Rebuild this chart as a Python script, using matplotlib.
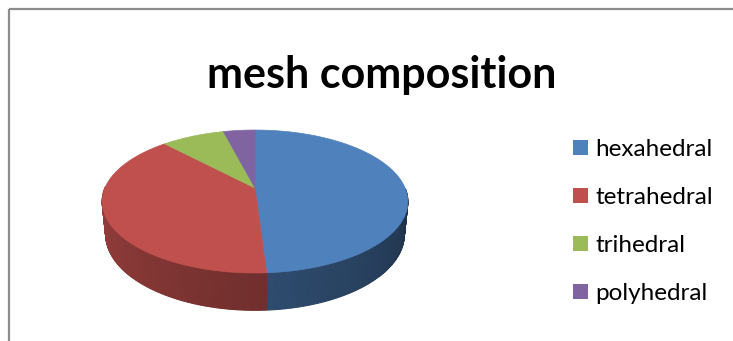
import numpy as np
import matplotlib.pyplot as plt
from matplotlib.colors import to_rgb
from matplotlib.patches import Polygon, Rectangle

labels = ['hexahedral', 'tetrahedral', 'trihedral', 'polyhedral']
values = [49, 39, 8, 4]
colors = ['#4f81bd', '#c0504d', '#9bbb59', '#8064a2']

W, H = 733, 341
fig = plt.figure(figsize=(W / 100, H / 100), dpi=100)
ax = fig.add_axes([0, 0, 1, 1])
ax.set_xlim(0, W)
ax.set_ylim(H, 0)
ax.axis('off')

# perspective camera for the 3d disc
phi = np.radians(26.6)
D = 4.73
f = 728.0
xscale = 0.975
cx, cy = 255.0, 188.0
h = 0.24


def project(x, y, z):
    depth = y * np.cos(phi) - z * np.sin(phi) + D
    sx = f * xscale * x / depth
    sy = f * (y * np.sin(phi) + z * np.cos(phi)) / depth
    return cx + sx, cy - sy


# slices go clockwise from 12 o'clock
fracs = np.array(values, dtype=float) / sum(values)
ends = 90 - 360 * np.cumsum(fracs)
starts = np.concatenate([[90], ends[:-1]])


def shade(th):
    # side wall gets darker toward the right
    t = (np.mod(th, 360) - 180) / 180
    return 0.8 - 0.42 * np.clip(t, 0, 1)


# side walls (front half only)
for a0, a1, c in zip(starts, ends, colors):
    lo, hi = sorted([a0, a1])
    n = int(abs(hi - lo) * 1.5) + 2
    th = np.mod(np.linspace(lo, hi, n), 360)
    th = np.sort(th[(th >= 178) & (th <= 362)])
    if len(th) < 2:
        continue
    base = np.array(to_rgb(c))
    for t0, t1 in zip(th[:-1], th[1:]):
        r0, r1 = np.radians(t0), np.radians(t1)
        pts = [project(np.cos(r0), np.sin(r0), 0), project(np.cos(r1), np.sin(r1), 0),
               project(np.cos(r1), np.sin(r1), -h), project(np.cos(r0), np.sin(r0), -h)]
        col = base * shade((t0 + t1) / 2)
        ax.add_patch(Polygon(pts, closed=True, facecolor=col, edgecolor=col, lw=0.8))

# top faces
px, py = project(0, 0, 0)
for a0, a1, c in zip(starts, ends, colors):
    th = np.radians(np.linspace(a0, a1, 200))
    xs, ys = project(np.cos(th), np.sin(th), 0)
    pts = np.column_stack([np.concatenate([[px], xs]), np.concatenate([[py], ys])])
    ax.add_patch(Polygon(pts, closed=True, facecolor=c, edgecolor=c, lw=0.5))

ax.text(382, 88, 'mesh composition', fontsize=31, fontweight='bold',
        family='Lato', ha='center', va='baseline', color='black')

# legend
for i, (lab, c) in enumerate(zip(labels, colors)):
    yc = 147 + i * 48.3
    ax.add_patch(Rectangle((573, yc - 7.5), 15, 15, facecolor=c, edgecolor='none'))
    ax.text(595, yc, lab, fontsize=17.5, family='Lato', ha='left', va='center_baseline')

# chart frame
ax.plot([8.5, W + 5], [8.5, 8.5], color='#8c8c8c', lw=1.6, solid_capstyle='butt')
ax.plot([8.5, 8.5], [8.5, H + 5], color='#8c8c8c', lw=1.6, solid_capstyle='butt')

fig.savefig('out.png', dpi=100)
